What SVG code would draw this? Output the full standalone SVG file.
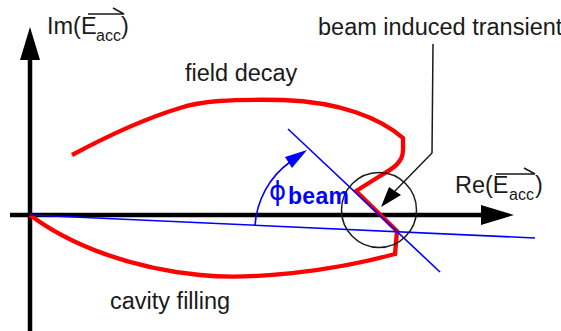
<svg xmlns="http://www.w3.org/2000/svg" width="561" height="331" viewBox="0 0 561 331">
<style>
.lbl{font-family:"Liberation Sans",Arial,sans-serif;font-size:23.5px;fill:#1a1a1a}
.sub{font-family:"Liberation Sans",Arial,sans-serif;font-size:16px;fill:#1a1a1a}
.axis{stroke:#000;stroke-width:4.5;fill:none}
.blue{stroke:#0000ff;stroke-width:1.6;fill:none}
.thin{stroke:#1a1a1a;stroke-width:1.5;fill:none}
</style>
<rect width="561" height="331" fill="#fff"/>
<g id="axes">
<line class="axis" x1="30" y1="331" x2="30" y2="56"/>
<polygon points="30,27 20,60 40,60" fill="#000"/>
<line class="axis" x1="10" y1="215" x2="486" y2="215"/>
<polygon points="514,215 481,205 481,225" fill="#000"/>
</g>
<g id="im-label">
<text class="lbl" x="47" y="34">Im(E</text>
<text class="sub" x="96" y="41">acc</text>
<text class="lbl" x="121" y="34">)</text>
<path class="thin" d="M88,14 H124 L113,8" stroke-width="1.3"/>
</g>
<g id="re-label">
<text class="lbl" x="455" y="193">Re(E</text>
<text class="sub" x="509" y="200">acc</text>
<text class="lbl" x="535" y="193">)</text>
<path class="thin" d="M496,174 H535 L524,168" stroke-width="1.3"/>
</g>
<g id="trajectory">
<path d="M30,215 C70,245 130,268 200,275 C250,280 330,272 395,254 L397,231 L356,191 L380,176 C392,169 403,163 403,150 L403,138 C380,118 340,102 283,100 C230,99 200,101 180,108 C140,120 100,140 72,155" fill="none" stroke="#ff0000" stroke-width="4.3" stroke-linejoin="miter"/>
</g>
<g id="connectors">
<line class="blue" x1="30" y1="215" x2="535" y2="238"/>
<line class="blue" x1="288" y1="129" x2="440" y2="272"/>
<path class="blue" d="M255,226 A85 85 0 0 1 290,162"/>
<polygon points="307,150 285,157 292,168" fill="#0000ff"/>
<circle cx="379" cy="210" r="37.5" class="thin"/>
<polyline class="thin" points="433,44 432,153 395,191"/>
<polygon points="381,207 389,187 401,195" fill="#000"/>
</g>
<g id="labels">
<text class="lbl" x="185" y="81" font-size="24">field decay</text>
<text class="lbl" x="110" y="309" font-size="24">cavity filling</text>
<text class="lbl" x="318" y="35" font-size="22.8">beam induced transient</text>
<text x="269" y="200" font-family="DejaVu Sans,sans-serif" font-size="26" fill="#0000ff">ϕ</text>
<text x="288" y="204" font-family="Liberation Sans,Arial,sans-serif" font-size="23" font-weight="bold" fill="#0000ff" textLength="61">beam</text>
</g>
</svg>
